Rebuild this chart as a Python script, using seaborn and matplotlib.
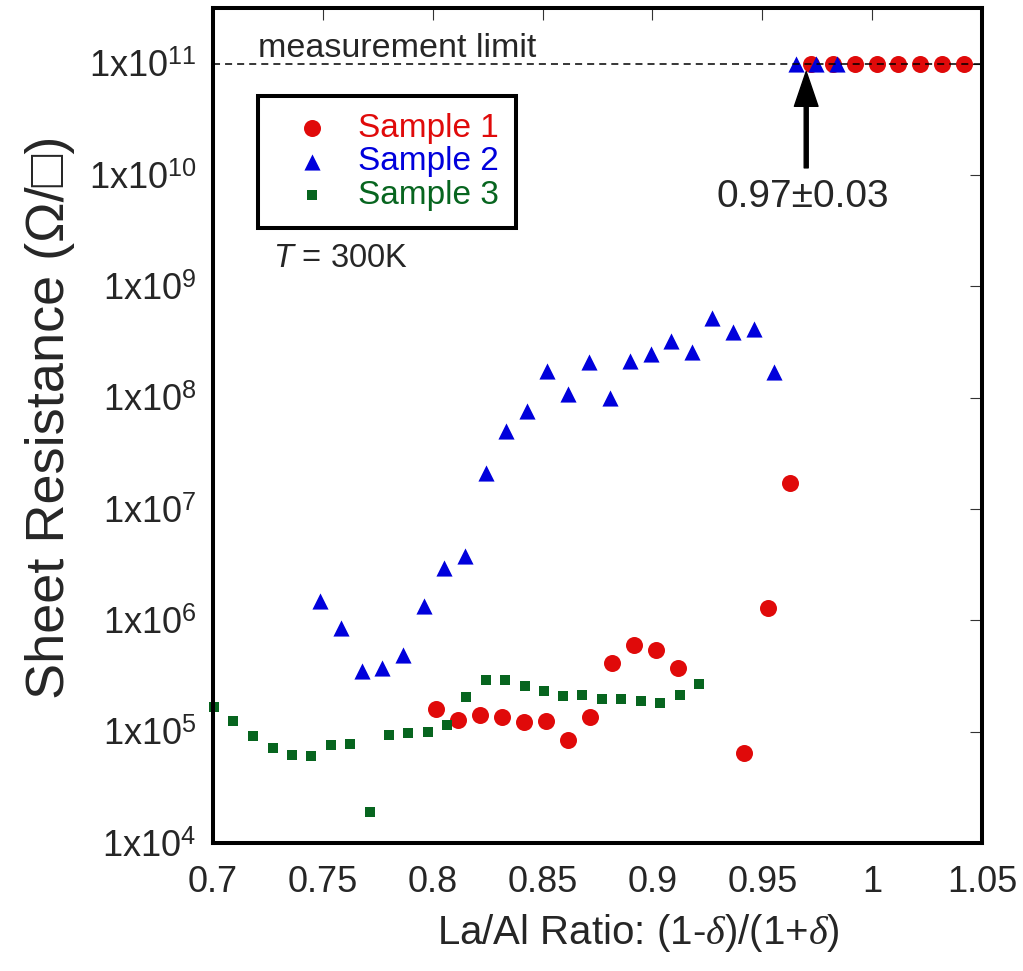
import numpy as np
import pandas as pd
import matplotlib
matplotlib.use("Agg")
import matplotlib.pyplot as plt
from matplotlib.ticker import FixedLocator, FuncFormatter, NullLocator
import seaborn as sns

# ---- data -------------------------------------------------------------
ratio_s1 = [0.8015, 0.8115, 0.8215, 0.8315, 0.8415, 0.8515, 0.8615, 0.8715,
            0.8815, 0.8915, 0.9015, 0.9115, 0.9415, 0.9525, 0.9625,
            0.972, 0.982, 0.992, 1.002, 1.012, 1.022, 1.032, 1.042]
rs_s1 = [1.6e5, 1.28e5, 1.42e5, 1.35e5, 1.23e5, 1.26e5, 8.5e4, 1.35e5,
         4.1e5, 6.0e5, 5.4e5, 3.7e5, 6.5e4, 1.3e6, 1.7e7,
         1e11, 1e11, 1e11, 1e11, 1e11, 1e11, 1e11, 1e11]

ratio_s2 = [0.7487, 0.7583, 0.7678, 0.7769, 0.7865, 0.7960, 0.8051, 0.8147,
            0.8243, 0.8334, 0.8429, 0.8520, 0.8616, 0.8711, 0.8807, 0.8898,
            0.8994, 0.9085, 0.9180, 0.9271, 0.9367, 0.9462, 0.9553,
            0.9653, 0.9744, 0.9840]
rs_s2 = [1.5e6, 8.5e5, 3.5e5, 3.7e5, 4.9e5, 1.35e6, 2.95e6, 3.8e6,
         2.1e7, 5.0e7, 7.6e7, 1.74e8, 1.09e8, 2.1e8, 1.0e8, 2.14e8,
         2.45e8, 3.2e8, 2.6e8, 5.2e8, 3.9e8, 4.1e8, 1.7e8,
         1e11, 1e11, 1e11]

ratio_s3 = [0.7005, 0.7093, 0.7183, 0.7271, 0.7358, 0.7448, 0.7536, 0.7625,
            0.7713, 0.7801, 0.7889, 0.7977, 0.8065, 0.8152, 0.8242, 0.8330,
            0.8418, 0.8506, 0.8593, 0.8681, 0.8771, 0.8859, 0.8948, 0.9036,
            0.9125, 0.9213]
rs_s3 = [1.67e5, 1.26e5, 9.1e4, 7.2e4, 6.2e4, 6.0e4, 7.6e4, 7.8e4,
         1.9e4, 9.3e4, 9.8e4, 9.9e4, 1.16e5, 2.04e5, 2.9e5, 2.9e5,
         2.57e5, 2.3e5, 2.1e5, 2.13e5, 1.96e5, 1.96e5, 1.88e5, 1.8e5,
         2.14e5, 2.7e5]

sample_names = ["Sample 1", "Sample 2", "Sample 3"]
measurement_limit = 1e11
onset_label = "0.97\u00b10.03"
onset_ratio = 0.97

x_ticks = [0.7, 0.75, 0.8, 0.85, 0.9, 0.95, 1.0, 1.05]
x_tick_labels = ["0.7", "0.75", "0.8", "0.85", "0.9", "0.95", "1", "1.05"]
y_decades = [4, 5, 6, 7, 8, 9, 10, 11]

# ---- style ------------------------------------------------------------
sns.set_style("white")
plt.rcParams["font.family"] = ["Liberation Sans", "DejaVu Sans"]
plt.rcParams["mathtext.fontset"] = "custom"
plt.rcParams["mathtext.rm"] = "Liberation Sans"
plt.rcParams["mathtext.it"] = "Liberation Serif:italic"
plt.rcParams["mathtext.sf"] = "Liberation Sans:italic"

colors = {"Sample 1": "#e00a0a", "Sample 2": "#0000dc", "Sample 3": "#07651f"}
markers = {"Sample 1": "o", "Sample 2": "^", "Sample 3": "s"}
sizes = {"Sample 1": 150, "Sample 2": 135, "Sample 3": 44}
layers = {"Sample 1": 3, "Sample 2": 4, "Sample 3": 5}

frames = [
    pd.DataFrame({"ratio": ratio_s1, "rs": rs_s1, "sample": sample_names[0]}),
    pd.DataFrame({"ratio": ratio_s2, "rs": rs_s2, "sample": sample_names[1]}),
    pd.DataFrame({"ratio": ratio_s3, "rs": rs_s3, "sample": sample_names[2]}),
]

fig = plt.figure(figsize=(10.23, 9.71), dpi=100)
ax = fig.add_axes([0.2082, 0.1318, 0.7517, 0.8599])

for df in frames:
    name = df["sample"].iloc[0]
    sns.scatterplot(data=df, x="ratio", y="rs", ax=ax, color=colors[name],
                    marker=markers[name], s=sizes[name], linewidth=0,
                    label=name, zorder=layers[name], clip_on=False)

ax.set_yscale("log")
ax.set_xlim(0.7, 1.05)
ax.set_ylim(1e4, 10 ** 11.5)

# measurement-limit line
ax.axhline(measurement_limit, color="black", lw=1.1, dashes=(4.6, 3.3), zorder=8)
ax.text(0.7205, 1.16e11, "measurement limit", fontsize=24.5, va="baseline",
        ha="left")

# onset arrow and label
ax.annotate("", xy=(onset_ratio, 8.5e10), xytext=(onset_ratio, 1.16e10),
            arrowprops=dict(facecolor="black", edgecolor="black", width=2.9,
                            headwidth=17, headlength=25, shrink=0),
            zorder=9)
ax.text(0.9685, 5.2e9, onset_label, fontsize=28, ha="center",
        va="baseline")

ax.text(0.7273, 1.5e9, r"$\mathsf{T}$ = 300K", fontsize=23.5, ha="left",
        va="baseline")

# axes
ax.xaxis.set_major_locator(FixedLocator(x_ticks))
ax.set_xticklabels(x_tick_labels)
ax.yaxis.set_major_locator(FixedLocator([10.0 ** d for d in y_decades]))
ax.yaxis.set_minor_locator(NullLocator())
ax.yaxis.set_major_formatter(
    FuncFormatter(lambda v, pos: r"1x10$^{%d}$" % int(round(np.log10(v)))))

ax.tick_params(axis="both", which="major", direction="in", length=8.6,
               width=0.8, color="#333333", top=True, right=True,
               labelsize=26)
ax.tick_params(axis="x", pad=16)
ax.tick_params(axis="y", pad=12)
for sp in ax.spines.values():
    sp.set_linewidth(2.9)
    sp.set_color("black")
    sp.set_zorder(10)

ax.set_xlabel("La/Al Ratio: (1-$\\mathit{\\delta}$)/(1+$\\mathit{\\delta}$)",
              fontsize=29)
ax.xaxis.set_label_coords(0.553, -0.083)
ax.set_ylabel("Sheet Resistance (\u03a9/\u25a1)", fontsize=39)
ax.yaxis.set_label_coords(-0.179, 0.51)

leg = ax.legend(loc="upper left", bbox_to_anchor=(0.0585, 0.8946),
                borderaxespad=0, fontsize=24, frameon=True, fancybox=False,
                framealpha=1, edgecolor="black", borderpad=0.5,
                handlelength=2.27, handletextpad=0.23, labelspacing=0.08,
                scatterpoints=1)
leg.get_frame().set_linewidth(2.9)
for txt, name in zip(leg.get_texts(), sample_names):
    txt.set_color(colors[name])

fig.savefig("out.png", dpi=100)
